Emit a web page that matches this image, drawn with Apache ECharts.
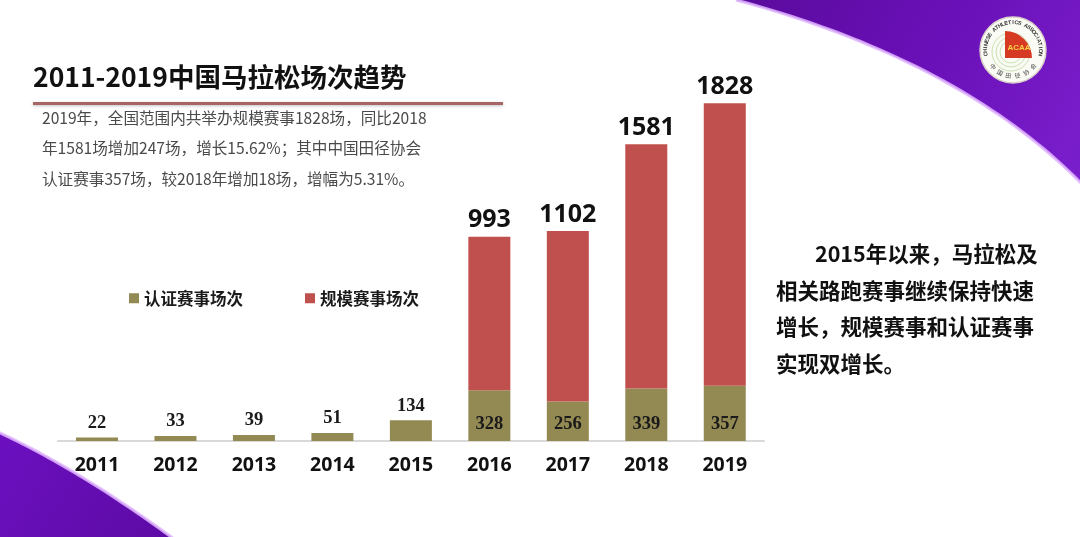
<!DOCTYPE html>
<html>
<head>
<meta charset="utf-8">
<script src="https://cdn.jsdelivr.net/npm/echarts@6/dist/echarts.min.js"></script>
<style>
html,body{margin:0;padding:0;background:#fff;}
#chart{width:1080px;height:537px;}
</style>
</head>
<body>
<div id="chart"></div>
<script>
// ---- data ----
const years = ['2011','2012','2013','2014','2015','2016','2017','2018','2019'];
const certified = [22, 33, 39, 51, 134, 328, 256, 339, 357];      // 认证赛事场次
const scale = [null, null, null, null, null, 993, 1102, 1581, 1828]; // 规模赛事场次
const seriesNames = ['认证赛事场次', '规模赛事场次'];
const titleText = '2011-2019中国马拉松场次趋势';
const introLines = [
  '2019年，全国范围内共举办规模赛事1828场，同比2018',
  '年1581场增加247场，增长15.62%；其中中国田径协会',
  '认证赛事357场，较2018年增加18场，增幅为5.31%。'
];
const noteLines = [
  '2015年以来，马拉松及',
  '相关路跑赛事继续保持快速',
  '增长，规模赛事和认证赛事',
  '实现双增长。'
];
const logoRing = 'CHINESE ATHLETICS ASSOCIATION';
const logoBottom = '中国田径协会';

const OLIVE = '#938953';
const RED = '#C0504D';
const CJK = '"Noto Sans CJK SC", "Noto Sans", sans-serif';

const chart = echarts.init(document.getElementById('chart'));

// decorative curve helper (quadratic bezier outline)
function qCurve(p0, p1, p2, n) {
  const pts = [];
  for (let i = 0; i <= n; i++) {
    const t = i / n, a = (1 - t) * (1 - t), b = 2 * t * (1 - t), c = t * t;
    pts.push([a * p0[0] + b * p1[0] + c * p2[0], a * p0[1] + b * p1[1] + c * p2[1]]);
  }
  return pts;
}

const graphics = [];
// purple swoosh top-right
const trCurve = qCurve([736, 0], [960, 60], [1082, 184], 40);
graphics.push({
  type: 'polygon', z: 0, silent: true,
  shape: { points: trCurve.concat([[1082, 0]]) },
  style: {
    fill: new echarts.graphic.LinearGradient(0, 0, 1, 1, [
      { offset: 0, color: '#5a0a9c' }, { offset: 0.5, color: '#6a10b8' }, { offset: 1, color: '#7a1fcc' }
    ])
  }
});
graphics.push({
  type: 'polyline', z: 1, silent: true,
  shape: { points: trCurve },
  style: { stroke: 'rgba(225,180,255,0.85)', lineWidth: 3, fill: 'none' }
});
// purple swoosh bottom-left
const blCurve = qCurve([-2, 432], [80, 470], [174, 539], 40);
graphics.push({
  type: 'polygon', z: 0, silent: true,
  shape: { points: blCurve.concat([[-2, 539]]) },
  style: {
    fill: new echarts.graphic.LinearGradient(0, 0, 1, 1, [
      { offset: 0, color: '#6c10c0' }, { offset: 1, color: '#5c0aa4' }
    ])
  }
});
graphics.push({
  type: 'polyline', z: 1, silent: true,
  shape: { points: blCurve },
  style: { stroke: 'rgba(225,180,255,0.85)', lineWidth: 3, fill: 'none' }
});
// title
graphics.push({
  type: 'text', left: 33, top: 64, z: 5,
  style: { text: titleText, font: 'bold 26.5px ' + CJK, fill: '#111' }
});
// underline
graphics.push({
  type: 'rect', z: 5, shape: { x: 33, y: 102, width: 470, height: 3 },
  style: { fill: '#a86565', shadowBlur: 3, shadowColor: 'rgba(0,0,0,0.25)', shadowOffsetY: 1 }
});
// intro paragraph
introLines.forEach((t, i) => {
  graphics.push({
    type: 'text', left: 42, top: 110 + i * 30.5, z: 5,
    style: { text: t, font: '15.6px ' + CJK, fill: '#4a4a4a' }
  });
});
// right note
noteLines.forEach((t, i) => {
  graphics.push({
    type: 'text', left: i === 0 ? 815 : 776, top: 243 + i * 36.6, z: 5,
    style: { text: t, font: 'bold 21.5px ' + CJK, fill: '#111' }
  });
});
// logo
const cx = 1013, cy = 50;
graphics.push({ type: 'circle', z: 6, shape: { cx, cy, r: 33 }, style: { fill: '#fbfbf5', stroke: '#d8d0c8', lineWidth: 1.5 } });
[19, 15, 11].forEach(r => graphics.push({ type: 'circle', z: 7, shape: { cx: cx - 2, cy: cy + 2, r }, style: { fill: 'none', stroke: '#c8e0b0', lineWidth: 1 } }));
graphics.push({ type: 'sector', z: 8, shape: { cx: cx - 8, cy: cy + 8, r: 27, r0: 0, startAngle: -Math.PI / 2, endAngle: 0 }, style: { fill: '#d63a22' } });
graphics.push({ type: 'text', z: 9, x: cx + 6, y: cy - 2, style: { text: 'ACAA', font: 'bold 8px sans-serif', fill: '#f7d34a', align: 'center', verticalAlign: 'middle' } });
const ringChars = logoRing.split('');
ringChars.forEach((ch, i) => {
  const ang = -Math.PI * 0.55 + (i / (ringChars.length - 1)) * Math.PI * 1.1 - Math.PI / 2;
  const r = 27.5;
  graphics.push({
    type: 'text', z: 9, x: cx + r * Math.cos(ang), y: cy + r * Math.sin(ang),
    rotation: -(ang + Math.PI / 2),
    style: { text: ch, font: 'bold 5.5px sans-serif', fill: '#333', align: 'center', verticalAlign: 'middle' }
  });
});
logoBottom.split('').forEach((ch, i, arr) => {
  const ang = Math.PI * 0.78 - (i / (arr.length - 1)) * Math.PI * 0.56;
  const r = 26;
  graphics.push({
    type: 'text', z: 9, x: cx + r * Math.cos(ang), y: cy + r * Math.sin(ang),
    rotation: -(ang - Math.PI / 2),
    style: { text: ch, font: '6px ' + CJK, fill: '#444', align: 'center', verticalAlign: 'middle' }
  });
});

const oliveData = certified.map((v, i) => ({
  value: v,
  label: scale[i] == null
    ? { position: 'top', distance: 5 }
    : { position: 'insideBottom', distance: 7 }
}));

chart.setOption({
  animation: false,
  backgroundColor: '#ffffff',
  graphic: graphics,
  legend: {
    data: seriesNames,
    left: 124, top: 285,
    icon: 'rect', itemWidth: 10, itemHeight: 10, itemGap: 62,
    textStyle: { fontFamily: CJK, fontWeight: 'bold', fontSize: 16.5, color: '#1a1a1a' }
  },
  grid: { left: 57.75, right: 316, top: 70, bottom: 96, containLabel: false },
  xAxis: {
    type: 'category', data: years,
    axisLine: { lineStyle: { color: '#d9d9d9', width: 2 } },
    axisTick: { show: false },
    axisLabel: { margin: 14, fontSize: 19.5, fontWeight: 'bold', color: '#111', fontFamily: '"Open Sans", "Noto Sans", sans-serif' }
  },
  yAxis: { type: 'value', min: 0, max: 2400, show: false, splitLine: { show: false } },
  series: [
    {
      name: seriesNames[0], type: 'bar', stack: 'a', barWidth: 42,
      itemStyle: { color: OLIVE },
      label: { show: true, color: '#1a1a1a', fontSize: 18.5, fontWeight: 'bold', fontFamily: '"Liberation Serif", "DejaVu Serif", serif' },
      data: oliveData
    },
    {
      name: seriesNames[1], type: 'bar', stack: 'a', barWidth: 42,
      itemStyle: { color: RED },
      label: { show: true, position: 'top', distance: 4, color: '#111', fontSize: 25, fontWeight: 'bold', fontFamily: '"Open Sans", "Noto Sans", sans-serif' },
      data: scale
    }
  ]
});
</script>
</body>
</html>
